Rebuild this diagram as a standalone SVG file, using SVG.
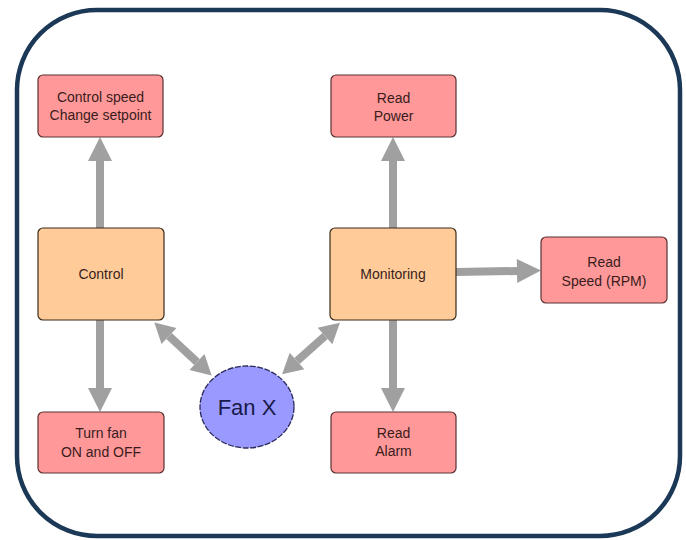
<svg xmlns="http://www.w3.org/2000/svg" width="686" height="540" viewBox="0 0 686 540">
<style>
.box{fill:#ff9999;stroke:#5a3030;stroke-width:1.2}
.ctl{fill:#ffcc99;stroke:#3a2a1a;stroke-width:1.2}
.lbl{font-family:"Liberation Sans",Arial,sans-serif;font-size:14px;fill:#3a1c1c;text-anchor:middle}
.arr{fill:none;stroke:#a0a0a0;stroke-width:8}
</style>
<defs>
<marker id="ah" markerUnits="userSpaceOnUse" markerWidth="24" markerHeight="24" refX="0" refY="12" orient="auto-start-reverse" overflow="visible">
<path d="M0,0 L24,12 L0,24 z" fill="#a0a0a0"/>
</marker>
<marker id="ahs" markerUnits="userSpaceOnUse" markerWidth="20" markerHeight="22" refX="0" refY="11" orient="auto-start-reverse" overflow="visible">
<path d="M0,0 L20,11 L0,22 z" fill="#a0a0a0"/>
</marker>
</defs>
<rect width="686" height="540" fill="#ffffff"/>
<rect id="frame" x="17" y="10" width="663" height="526" rx="80" ry="80" fill="none" stroke="#1c3857" stroke-width="4.5"/>
<g id="connectors">
<path class="arr" d="M100,228 L100,161" marker-end="url(#ah)"/>
<path class="arr" d="M100,320 L100,388" marker-end="url(#ah)"/>
<path class="arr" d="M393,228 L393,161" marker-end="url(#ah)"/>
<path class="arr" d="M393,320 L393,388" marker-end="url(#ah)"/>
<path class="arr" d="M456,272 L517,271" marker-end="url(#ah)"/>
<path class="arr" d="M169,336 L197,362" marker-start="url(#ahs)" marker-end="url(#ahs)"/>
<path class="arr" d="M325,336 L297,361" marker-start="url(#ahs)" marker-end="url(#ahs)"/>
</g>
<g id="n-speed">
<rect class="box" x="38" y="75" width="125" height="62" rx="5"/>
<text class="lbl" x="100.5" y="102">Control speed</text>
<text class="lbl" x="100.5" y="120">Change setpoint</text>
</g>
<g id="n-power">
<rect class="box" x="331" y="75" width="125" height="62" rx="5"/>
<text class="lbl" x="393.5" y="103">Read</text>
<text class="lbl" x="393.5" y="121">Power</text>
</g>
<g id="n-control">
<rect class="ctl" x="38" y="228" width="126" height="92" rx="5"/>
<text class="lbl" x="101" y="279">Control</text>
</g>
<g id="n-monitoring">
<rect class="ctl" x="330" y="228" width="126" height="92" rx="5"/>
<text class="lbl" x="393" y="279">Monitoring</text>
</g>
<g id="n-rpm">
<rect class="box" x="541" y="237" width="126" height="66" rx="5"/>
<text class="lbl" x="604" y="267">Read</text>
<text class="lbl" x="604" y="286">Speed (RPM)</text>
</g>
<g id="n-turn">
<rect class="box" x="38" y="412" width="126" height="61" rx="5"/>
<text class="lbl" x="101" y="438">Turn fan</text>
<text class="lbl" x="101" y="457">ON and OFF</text>
</g>
<g id="n-alarm">
<rect class="box" x="331" y="412" width="125" height="61" rx="5"/>
<text class="lbl" x="393.5" y="438">Read</text>
<text class="lbl" x="393.5" y="456">Alarm</text>
</g>
<g id="n-fan">
<ellipse cx="247" cy="407" rx="47" ry="41" fill="#9999ff" stroke="#2a2a5a" stroke-width="1.3" stroke-dasharray="6,1.5"/>
<text x="247" y="415" font-family="Liberation Sans,Arial,sans-serif" font-size="22" fill="#1a1a4a" text-anchor="middle">Fan X</text>
</g>
</svg>
